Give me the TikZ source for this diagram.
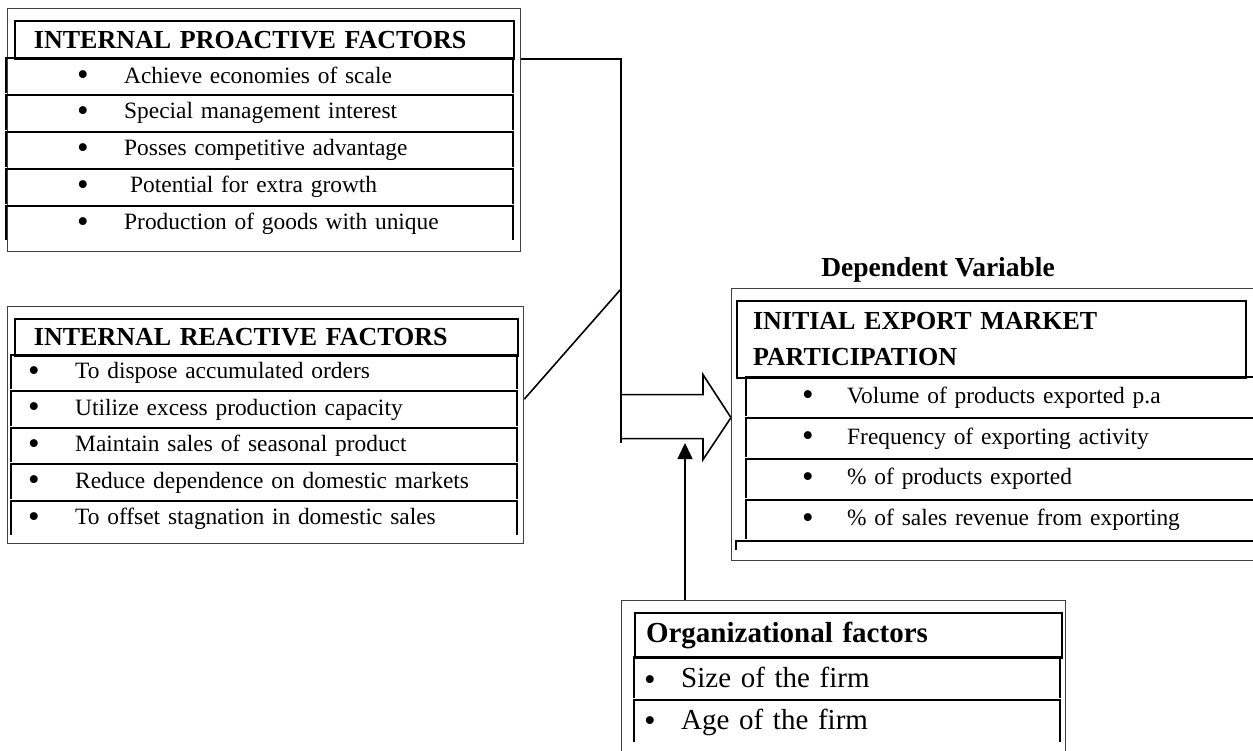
\documentclass[tikz,border=0pt]{standalone}
\usepackage{fontspec}
\setmainfont{Liberation Serif}
\usepackage{tikz}
\usetikzlibrary{positioning}
\usetikzlibrary{arrows.meta}
\newcommand{\dotmark}{\raisebox{-2.5pt}{\fontsize{33}{33}\selectfont\textbullet}}

\begin{document}
\begin{tikzpicture}[x=1pt, y=-1pt,
        frame/.style={rectangle, draw=black!75, line width=1.3pt, anchor=north west, inner sep=0pt},
        head/.style={rectangle, draw=black, line width=2pt, anchor=north west, inner sep=0pt, align=left, font=\fontsize{26}{36}\selectfont\bfseries},
        item/.style={rectangle, anchor=north west, inner sep=0pt, align=left, font=\fontsize{23.4}{28}\selectfont},
        rule/.style={black, line width=2pt},
        link/.style={black, line width=1.6pt}
      ]
        \useasboundingbox (0,0) rectangle (1253,751);

        \node[frame, minimum width=513pt, minimum height=243pt]  (proframe)  at (7,8)  {};
        \node[head, text width=499pt, minimum height=38pt]  (prohead)  at (14,20)  {\hspace*{19pt}INTERNAL PROACTIVE FACTORS};
        \node[item, text width=507pt, minimum height=36.5pt]  (pro1)  at (6,58)  {\hspace*{71pt}\makebox[47pt][l]{\dotmark}Achieve economies of scale};
        \node[item, text width=507pt, minimum height=36.5pt]  (pro2)  [below=0pt of pro1]  {\hspace*{71pt}\makebox[47pt][l]{\dotmark}Special management interest};
        \node[item, text width=507pt, minimum height=36.5pt]  (pro3)  [below=0pt of pro2]  {\hspace*{71pt}\makebox[47pt][l]{\dotmark}Posses competitive advantage};
        \node[item, text width=507pt, minimum height=36.5pt]  (pro4)  [below=0pt of pro3]  {\hspace*{71pt}\makebox[47pt][l]{\dotmark}\hspace*{6pt}Potential for extra growth};
        \node[item, text width=507pt, minimum height=36.5pt]  (pro5)  [below=0pt of pro4]  {\hspace*{71pt}\makebox[47pt][l]{\dotmark}Production of goods with unique};

        \node[frame, minimum width=516pt, minimum height=237pt]  (reaframe)  at (7,306)  {};
        \node[head, text width=503pt, minimum height=37pt]  (reahead)  at (14,318)  {\hspace*{19pt}INTERNAL REACTIVE FACTORS};
        \node[item, text width=506pt, minimum height=36pt]  (rea1)  at (11,355)  {\hspace*{17pt}\makebox[47pt][l]{\dotmark}To dispose accumulated orders};
        \node[item, text width=506pt, minimum height=36pt]  (rea2)  [below=0pt of rea1]  {\hspace*{17pt}\makebox[47pt][l]{\dotmark}Utilize excess production capacity};
        \node[item, text width=506pt, minimum height=36pt]  (rea3)  [below=0pt of rea2]  {\hspace*{17pt}\makebox[47pt][l]{\dotmark}Maintain sales of seasonal product};
        \node[item, text width=506pt, minimum height=36pt]  (rea4)  [below=0pt of rea3]  {\hspace*{17pt}\makebox[47pt][l]{\dotmark}Reduce dependence on domestic markets};
        \node[item, text width=506pt, minimum height=36pt]  (rea5)  [below=0pt of rea4]  {\hspace*{17pt}\makebox[47pt][l]{\dotmark}To offset stagnation in domestic sales};

        \node[font=\fontsize{27.5}{30}\selectfont\bfseries]  (deptitle)  at (938,270)  {Dependent Variable};
        \node[frame, minimum width=540pt, minimum height=272pt]  (depframe)  at (731,288)  {};
        \node[head, text width=509pt, minimum height=77pt]  (dephead)  at (736,300)  {\hspace*{16pt}INITIAL EXPORT MARKET\\\hspace*{16pt}PARTICIPATION};
        \node[item, text width=520pt, minimum height=40.5pt]  (dep1)  at (746,377)  {\hspace*{56pt}\makebox[45pt][l]{\dotmark}Volume of products exported p.a};
        \node[item, text width=520pt, minimum height=40.5pt]  (dep2)  [below=0pt of dep1]  {\hspace*{56pt}\makebox[45pt][l]{\dotmark}Frequency of exporting activity};
        \node[item, text width=520pt, minimum height=40.5pt]  (dep3)  [below=0pt of dep2]  {\hspace*{56pt}\makebox[45pt][l]{\dotmark}\% of products exported};
        \node[item, text width=520pt, minimum height=40.5pt]  (dep4)  [below=0pt of dep3]  {\hspace*{56pt}\makebox[45pt][l]{\dotmark}\% of sales revenue from exporting};

        \node[frame, minimum width=444pt, minimum height=170pt]  (orgframe)  at (621,600)  {};
        \node[head, text width=427pt, minimum height=45pt, font=\fontsize{29}{34}\selectfont\bfseries]  (orghead)  at (634,612)  {\hspace*{11pt}Organizational factors};
        \node[item, text width=426pt, minimum height=43pt, font=\fontsize{29}{34}\selectfont]  (org1)  at (634,657)  {\hspace*{10pt}\makebox[37pt][l]{\dotmark}Size of the firm};
        \node[item, text width=426pt, minimum height=43pt, font=\fontsize{29}{34}\selectfont]  (org2)  [below=0pt of org1]  {\hspace*{10pt}\makebox[37pt][l]{\dotmark}Age of the firm};

        \foreach \r in {pro1,pro2,pro3,pro4,pro5,rea1,rea2,rea3,rea4,rea5,dep1,dep2,dep3,dep4,org1,org2}
          \draw[rule]  ([yshift=2pt]\r.south west) -- (\r.north west) -- (\r.north east) -- ([yshift=2pt]\r.south east);
        \draw[rule]  ([xshift=-10pt, yshift=-9pt]dep4.south west) -- ([xshift=-10pt]dep4.south west) -- (dep4.south east);

        \coordinate (bend) at (621,59);
        \coordinate (bus)  at (621,443);
        \coordinate (meet) at (621,289);
        \coordinate (tip)  at ([yshift=7pt]depframe.west);
        \coordinate (foot) at ([xshift=64pt]orgframe.north west);

        \draw[link]  (proframe.east |- bend) -- (bend) -- (bus);
        \draw[link]  ([yshift=26pt]reaframe.east) -- (meet);
        \draw[link]  (tip) -- ++(-28,-43) -- ++(0,20) -- ++(-82,0);
        \draw[link]  (tip) -- ++(-28,42) -- ++(0,-21) -- ++(-82,0);
        \draw[link, -{Triangle[length=16pt, width=15pt]}]  (foot) -- (foot |- bus);
      \end{tikzpicture}
\end{document}
